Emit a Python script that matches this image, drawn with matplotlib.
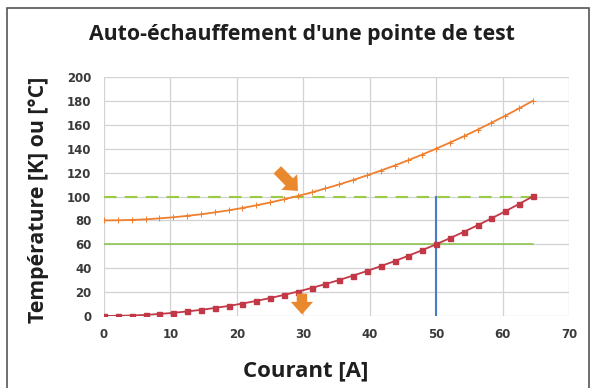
import matplotlib.pyplot as plt
from matplotlib.patches import Rectangle

courant = [0.0, 2.08, 4.17, 6.25, 8.33, 10.42, 12.5, 14.58, 16.67, 18.75,
           20.83, 22.92, 25.0, 27.08, 29.17, 31.25, 33.33, 35.42, 37.5, 39.58,
           41.67, 43.75, 45.83, 47.92, 50.0, 52.08, 54.17, 56.25, 58.33, 60.42,
           62.5, 64.58]
echauffement = [0.0, 0.1, 0.4, 0.9, 1.7, 2.6, 3.8, 5.1, 6.7, 8.4,
                10.4, 12.6, 15.0, 17.6, 20.4, 23.4, 26.7, 30.1, 33.8, 37.6,
                41.7, 45.9, 50.4, 55.1, 60.0, 65.1, 70.4, 75.9, 81.7, 87.6,
                93.8, 100.1]
temperature = [80.0, 80.1, 80.4, 80.9, 81.7, 82.6, 83.8, 85.1, 86.7, 88.4,
               90.4, 92.6, 95.0, 97.6, 100.4, 103.4, 106.7, 110.1, 113.8, 117.6,
               121.7, 125.9, 130.4, 135.1, 140.0, 145.1, 150.4, 155.9, 161.7, 167.6,
               173.8, 180.1]

seuil_max = 100
seuil_ech = 60
courant_max = 50

x_ticks = [0, 10, 20, 30, 40, 50, 60, 70]
y_ticks = [0, 20, 40, 60, 80, 100, 120, 140, 160, 180, 200]

fig = plt.figure(figsize=(5.97, 3.88), dpi=100)
ax = fig.add_axes([0.1742, 0.1856, 0.953 - 0.1742, 0.8015 - 0.1856])

# cadre autour de la figure
fig.patches.append(Rectangle((7 / 597, -0.02), 582 / 597, 1 - 8 / 388 + 0.02,
                             transform=fig.transFigure, fill=False,
                             edgecolor='#555555', linewidth=1.2))

ax.plot(courant, temperature, color='#F07F2E', linewidth=1.3,
        marker='+', markersize=4, markeredgewidth=0.7, zorder=4)
ax.plot(courant, echauffement, color='#C23847', linewidth=1.3,
        marker='s', markersize=3.6, zorder=4)

ax.plot([0, courant[-1]], [seuil_max, seuil_max], color='#9BCB45',
        linewidth=1.5, linestyle=(0, (6, 4)), zorder=3)
ax.plot([0, courant[-1]], [seuil_ech, seuil_ech], color='#86C34A',
        linewidth=1.1, zorder=3)
ax.plot([courant_max, courant_max], [0, seuil_max], color='#4A7CC4',
        linewidth=1.5, zorder=3)

# flèches
fleche = dict(arrowstyle='simple,head_width=1.6,head_length=0.9,tail_width=0.75',
              color='#EA882E', lw=0)
ax.annotate('', xy=(29.5, 103), xytext=(25.8, 124),
            arrowprops=fleche, zorder=5)
ax.annotate('', xy=(29.8, -1), xytext=(29.8, 21),
            arrowprops=fleche, zorder=5, annotation_clip=False)

ax.set_xlim(0, 70)
ax.set_ylim(0, 200)
ax.set_xticks(x_ticks)
ax.set_yticks(y_ticks)
ax.grid(True, color='#D2D2D2', linewidth=0.9)
ax.set_axisbelow(True)
for s in ax.spines.values():
    s.set_visible(False)
ax.tick_params(length=0, pad=9, labelsize=8.5, labelcolor='#3a3a3a')
for lab in ax.get_xticklabels() + ax.get_yticklabels():
    lab.set_fontweight('bold')

fig.text(0.505, 0.912, "Auto-échauffement d'une pointe de test",
         ha='center', va='center', fontsize=15.3, fontweight='bold',
         family='Open Sans', color='#1e1e1e')
fig.text(0.512, 0.043, 'Courant [A]', ha='center', va='center',
         fontsize=16, fontweight='bold', family='Open Sans', color='#1e1e1e')
fig.text(0.064, 0.485, 'Température [K] ou [°C]', ha='center', va='center',
         rotation=90, fontsize=15.3, fontweight='bold', family='Open Sans',
         color='#1e1e1e')

fig.savefig('out.png', dpi=100)
